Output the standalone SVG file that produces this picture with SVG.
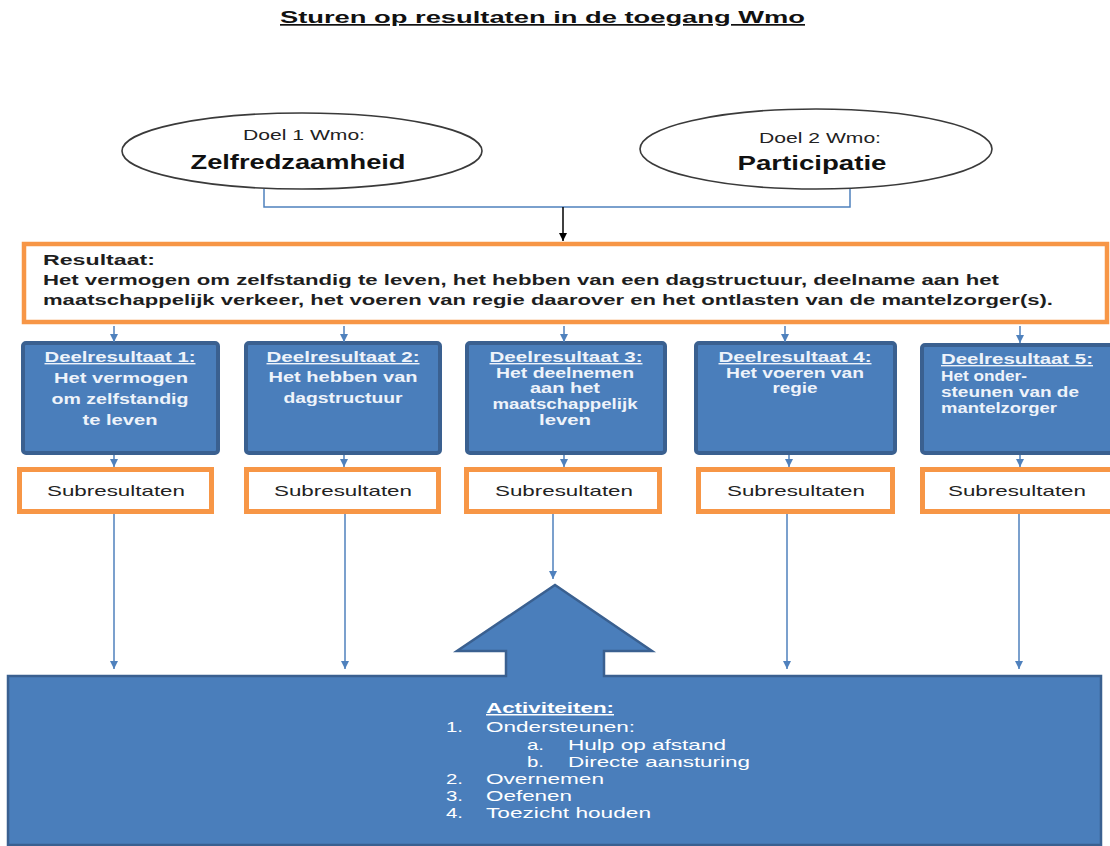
<svg xmlns="http://www.w3.org/2000/svg" width="1110" height="846" viewBox="0 0 1110 846">
<defs>
<style>
text{font-family:"Liberation Sans",Arial,sans-serif}
.ttl{font-size:17px;font-weight:bold;fill:#111;text-decoration:underline}
.ell{fill:#fff;stroke:#3a3a3a;stroke-width:1.6}
.dl{font-size:14px;fill:#222}
.db{font-size:21px;font-weight:bold;fill:#111}
.res{font-size:14.5px;font-weight:bold;fill:#1e1e1e}
.obox{fill:#fff;stroke:#f79646}
.dbox{fill:#4a7ebb;stroke:#3a6090;stroke-width:4}
.dr{font-size:14px;font-weight:bold;fill:#eef3fa;text-anchor:middle}
.drl{font-size:14px;font-weight:bold;fill:#eef3fa}
.u{text-decoration:underline}
.sub{font-size:15px;fill:#222;text-anchor:middle}
.act{font-size:15px;fill:#fff}
.conn{fill:none;stroke:#4f81bd;stroke-width:1.5}
</style>
<marker id="ab" viewBox="0 0 10 10" refX="10" refY="5" markerWidth="9" markerHeight="8" markerUnits="userSpaceOnUse" orient="auto">
<path d="M0,0 L10,5 L0,10 z" fill="#4f81bd"/>
</marker>
<marker id="ak" viewBox="0 0 10 10" refX="10" refY="5" markerWidth="9" markerHeight="8" markerUnits="userSpaceOnUse" orient="auto">
<path d="M0,0 L10,5 L0,10 z" fill="#000"/>
</marker>
</defs>
<rect width="1110" height="846" fill="#fff"/>

<text id="title" class="ttl" x="280" y="23" textLength="525" lengthAdjust="spacingAndGlyphs">Sturen op resultaten in de toegang Wmo</text>

<g id="doel1">
<ellipse class="ell" cx="302" cy="151" rx="180" ry="38"/>
<text class="dl" x="304" y="140" text-anchor="middle" textLength="122" lengthAdjust="spacingAndGlyphs">Doel 1 Wmo:</text>
<text class="db" x="298" y="169" text-anchor="middle" textLength="215" lengthAdjust="spacingAndGlyphs">Zelfredzaamheid</text>
</g>
<g id="doel2">
<ellipse class="ell" cx="816" cy="149" rx="176" ry="40"/>
<text class="dl" x="820" y="143" text-anchor="middle" textLength="122" lengthAdjust="spacingAndGlyphs">Doel 2 Wmo:</text>
<text class="db" x="812" y="170" text-anchor="middle" textLength="149" lengthAdjust="spacingAndGlyphs">Participatie</text>
</g>

<g id="resultaat">
<rect class="obox" x="24" y="244" width="1083" height="78" stroke-width="4.5"/>
<text class="res" x="43" y="265" textLength="112" lengthAdjust="spacingAndGlyphs">Resultaat:</text>
<text class="res" x="43" y="285" textLength="956" lengthAdjust="spacingAndGlyphs">Het vermogen om zelfstandig te leven, het hebben van een dagstructuur, deelname aan het</text>
<text class="res" x="43" y="305" textLength="1010" lengthAdjust="spacingAndGlyphs">maatschappelijk verkeer, het voeren van regie daarover en het ontlasten van de mantelzorger(s).</text>
</g>

<g id="deel1">
<rect class="dbox" x="23" y="343" width="195" height="110" rx="3"/>
<text class="dr u" x="120" y="362" textLength="151" lengthAdjust="spacingAndGlyphs">Deelresultaat 1:</text>
<text class="dr" x="121" y="383" textLength="134" lengthAdjust="spacingAndGlyphs">Het vermogen</text>
<text class="dr" x="120" y="404" textLength="137" lengthAdjust="spacingAndGlyphs">om zelfstandig</text>
<text class="dr" x="120" y="425" textLength="75" lengthAdjust="spacingAndGlyphs">te leven</text>
</g>
<g id="deel2">
<rect class="dbox" x="246" y="343" width="194" height="110" rx="3"/>
<text class="dr u" x="343" y="362" textLength="153" lengthAdjust="spacingAndGlyphs">Deelresultaat 2:</text>
<text class="dr" x="343" y="382" textLength="149" lengthAdjust="spacingAndGlyphs">Het hebben van</text>
<text class="dr" x="343" y="403" textLength="119" lengthAdjust="spacingAndGlyphs">dagstructuur</text>
</g>
<g id="deel3">
<rect class="dbox" x="467" y="343" width="198" height="110" rx="3"/>
<text class="dr u" x="566" y="362" textLength="153" lengthAdjust="spacingAndGlyphs">Deelresultaat 3:</text>
<text class="dr" x="565" y="378" textLength="138" lengthAdjust="spacingAndGlyphs">Het deelnemen</text>
<text class="dr" x="565" y="393" textLength="70" lengthAdjust="spacingAndGlyphs">aan het</text>
<text class="dr" x="565" y="409" textLength="145" lengthAdjust="spacingAndGlyphs">maatschappelijk</text>
<text class="dr" x="565" y="425" textLength="52" lengthAdjust="spacingAndGlyphs">leven</text>
</g>
<g id="deel4">
<rect class="dbox" x="696" y="343" width="199" height="110" rx="3"/>
<text class="dr u" x="795" y="362" textLength="153" lengthAdjust="spacingAndGlyphs">Deelresultaat 4:</text>
<text class="dr" x="795" y="378" textLength="138" lengthAdjust="spacingAndGlyphs">Het voeren van</text>
<text class="dr" x="795" y="393" textLength="45" lengthAdjust="spacingAndGlyphs">regie</text>
</g>
<g id="deel5">
<rect class="dbox" x="922" y="345" width="200" height="108" rx="3"/>
<text class="drl u" x="941" y="364" textLength="152" lengthAdjust="spacingAndGlyphs">Deelresultaat 5:</text>
<text class="drl" x="941" y="381" textLength="86" lengthAdjust="spacingAndGlyphs">Het onder-</text>
<text class="drl" x="941" y="397" textLength="138" lengthAdjust="spacingAndGlyphs">steunen van de</text>
<text class="drl" x="941" y="413" textLength="116" lengthAdjust="spacingAndGlyphs">mantelzorger</text>
</g>

<g id="sub1">
<rect class="obox" x="19.5" y="469.5" width="192" height="42" stroke-width="5"/>
<text class="sub" x="116" y="496" textLength="138" lengthAdjust="spacingAndGlyphs">Subresultaten</text>
</g>
<g id="sub2">
<rect class="obox" x="246.5" y="469.5" width="192" height="42" stroke-width="5"/>
<text class="sub" x="343" y="496" textLength="138" lengthAdjust="spacingAndGlyphs">Subresultaten</text>
</g>
<g id="sub3">
<rect class="obox" x="466.5" y="469.5" width="193" height="42" stroke-width="5"/>
<text class="sub" x="564" y="496" textLength="138" lengthAdjust="spacingAndGlyphs">Subresultaten</text>
</g>
<g id="sub4">
<rect class="obox" x="698.5" y="469.5" width="194" height="42" stroke-width="5"/>
<text class="sub" x="796" y="496" textLength="138" lengthAdjust="spacingAndGlyphs">Subresultaten</text>
</g>
<g id="sub5">
<rect class="obox" x="922.5" y="469.5" width="192" height="42" stroke-width="5"/>
<text class="sub" x="1017" y="496" textLength="138" lengthAdjust="spacingAndGlyphs">Subresultaten</text>
</g>

<g id="activiteiten">
<path d="M8,676 H506 V651 H457 L555,585 L652,651 H604 V676 H1101 V845 H8 Z" fill="#4a7ebb" stroke="#3a6090" stroke-width="2.5" stroke-linejoin="miter"/>
<text class="act u" x="486" y="713" font-weight="bold" textLength="128" lengthAdjust="spacingAndGlyphs">Activiteiten:</text>
<text class="act" x="446" y="732" textLength="17" lengthAdjust="spacingAndGlyphs">1.</text>
<text class="act" x="486" y="732" textLength="149" lengthAdjust="spacingAndGlyphs">Ondersteunen:</text>
<text class="act" x="527" y="750" textLength="17" lengthAdjust="spacingAndGlyphs">a.</text>
<text class="act" x="568" y="750" textLength="158" lengthAdjust="spacingAndGlyphs">Hulp op afstand</text>
<text class="act" x="527" y="767" textLength="17" lengthAdjust="spacingAndGlyphs">b.</text>
<text class="act" x="568" y="767" textLength="182" lengthAdjust="spacingAndGlyphs">Directe aansturing</text>
<text class="act" x="446" y="784" textLength="17" lengthAdjust="spacingAndGlyphs">2.</text>
<text class="act" x="486" y="784" textLength="118" lengthAdjust="spacingAndGlyphs">Overnemen</text>
<text class="act" x="446" y="801" textLength="17" lengthAdjust="spacingAndGlyphs">3.</text>
<text class="act" x="486" y="801" textLength="86" lengthAdjust="spacingAndGlyphs">Oefenen</text>
<text class="act" x="446" y="818" textLength="17" lengthAdjust="spacingAndGlyphs">4.</text>
<text class="act" x="486" y="818" textLength="165" lengthAdjust="spacingAndGlyphs">Toezicht houden</text>
</g>

<g id="connectors">
<path class="conn" d="M264,189 V207 H850 V189"/>
<path d="M563,207 V241" stroke="#000" stroke-width="1.5" fill="none" marker-end="url(#ak)"/>
<path class="conn" d="M114,326 V342" marker-end="url(#ab)"/>
<path class="conn" d="M344,326 V342" marker-end="url(#ab)"/>
<path class="conn" d="M564,326 V342" marker-end="url(#ab)"/>
<path class="conn" d="M785,326 V342" marker-end="url(#ab)"/>
<path class="conn" d="M1020,326 V343" marker-end="url(#ab)"/>
<path class="conn" d="M114,455 V467" marker-end="url(#ab)"/>
<path class="conn" d="M344,455 V467" marker-end="url(#ab)"/>
<path class="conn" d="M564,455 V467" marker-end="url(#ab)"/>
<path class="conn" d="M789,455 V467" marker-end="url(#ab)"/>
<path class="conn" d="M1020,455 V467" marker-end="url(#ab)"/>
<path class="conn" d="M114,514 V669" marker-end="url(#ab)"/>
<path class="conn" d="M345,514 V669" marker-end="url(#ab)"/>
<path class="conn" d="M553,514 V579" marker-end="url(#ab)"/>
<path class="conn" d="M787,514 V669" marker-end="url(#ab)"/>
<path class="conn" d="M1019,514 V669" marker-end="url(#ab)"/>
</g>
</svg>
